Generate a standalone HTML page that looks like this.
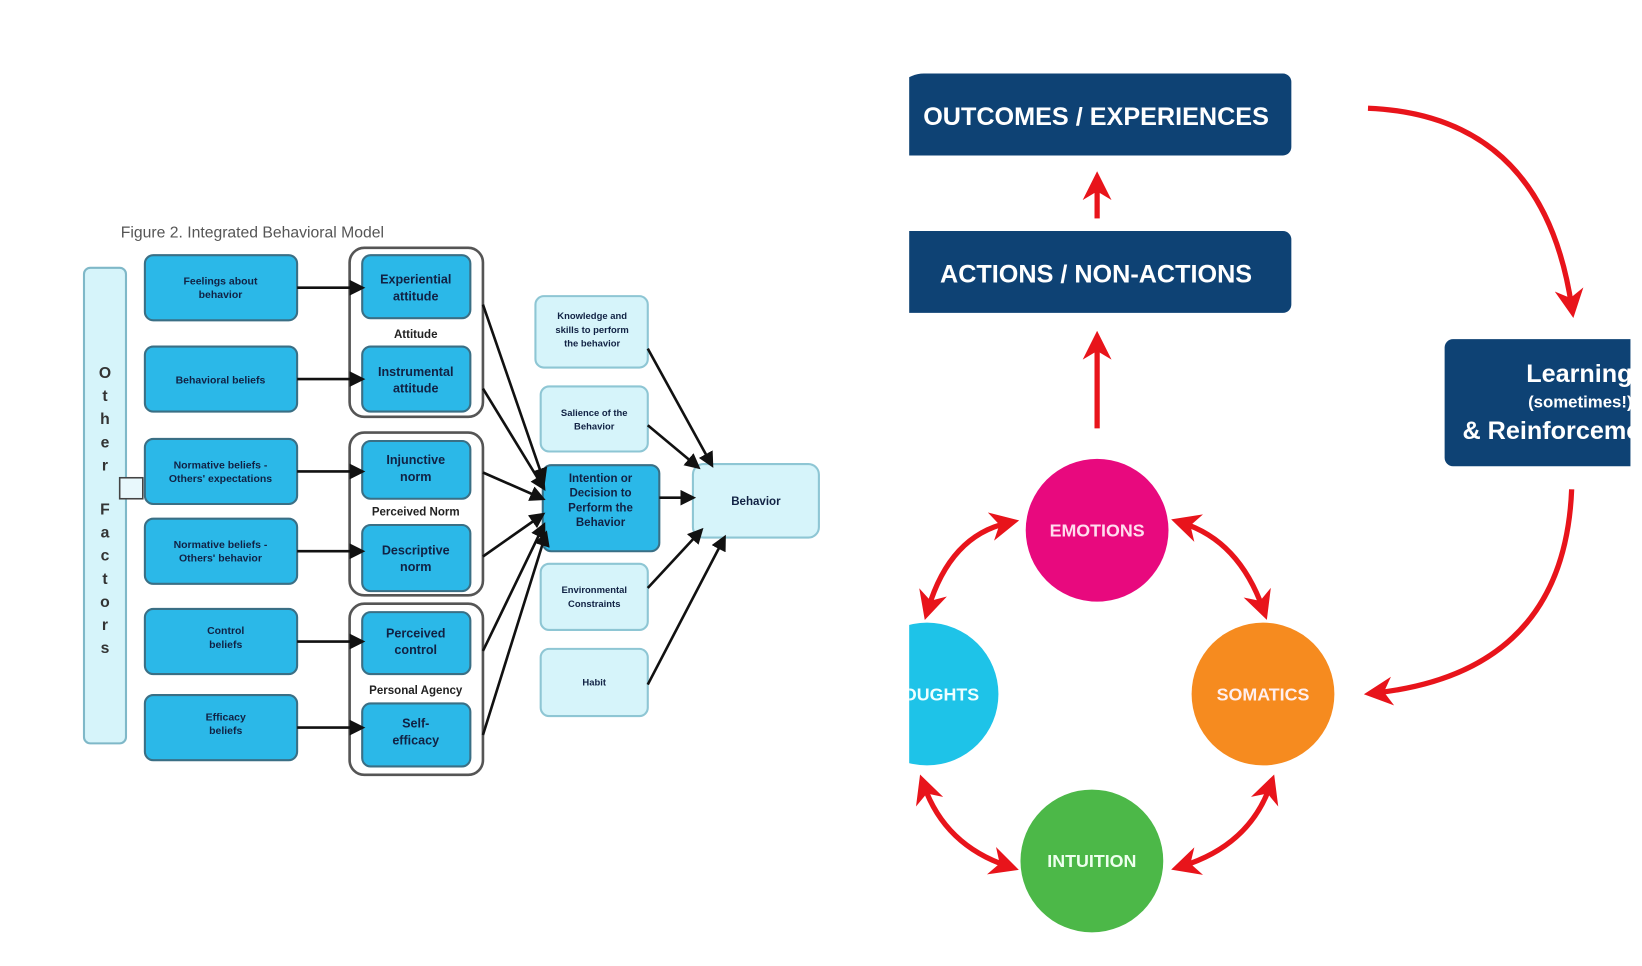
<!DOCTYPE html>
<html><head><meta charset="utf-8"><style>
html,body{margin:0;padding:0;background:#fff;width:1642px;height:966px;overflow:hidden}
svg{display:block}
.t{font-family:"Liberation Sans",sans-serif;font-weight:bold}
</style></head><body>
<svg width="1642" height="966" viewBox="0 0 1564 920" xmlns="http://www.w3.org/2000/svg">
<defs>
<marker id="ah" viewBox="0 0 10 10" refX="8" refY="5" markerWidth="6" markerHeight="6" orient="auto-start-reverse"><path d="M0,0 L10,5 L0,10 z" fill="#111"/></marker>
<marker id="rh" viewBox="0 0 10 10" refX="6" refY="5" markerWidth="5.5" markerHeight="5.5" orient="auto-start-reverse"><path d="M0,0 L10,5 L0,10 L3,5 z" fill="#e8141b"/></marker>
<clipPath id="rc"><rect x="866" y="0" width="692" height="920"/></clipPath>
</defs>
<rect width="1564" height="920" fill="#fff"/>
<!-- LEFT DIAGRAM -->
<text x="115" y="226" font-family="Liberation Sans,sans-serif" font-size="15" fill="#555">Figure 2.  Integrated Behavioral Model</text>
<rect x="80" y="255" width="40" height="453" rx="6" fill="#d6f4fa" stroke="#7fb8c8" stroke-width="2"/>
<text x="100" y="360" class="t" font-size="15" fill="#333" text-anchor="middle">
<tspan x="100" dy="0">O</tspan><tspan x="100" dy="22">t</tspan><tspan x="100" dy="22">h</tspan><tspan x="100" dy="22">e</tspan><tspan x="100" dy="22">r</tspan><tspan x="100" dy="42">F</tspan><tspan x="100" dy="22">a</tspan><tspan x="100" dy="22">c</tspan><tspan x="100" dy="22">t</tspan><tspan x="100" dy="22">o</tspan><tspan x="100" dy="22">r</tspan><tspan x="100" dy="22">s</tspan></text>
<rect x="114" y="455" width="22" height="20" fill="#e8f8fc" stroke="#444" stroke-width="1.5"/>
<g fill="#2bb8e8" stroke="#3a6f85" stroke-width="2">
<rect x="138" y="243" width="145" height="62" rx="8"/>
<rect x="138" y="330" width="145" height="62" rx="8"/>
<rect x="138" y="418" width="145" height="62" rx="8"/>
<rect x="138" y="494" width="145" height="62" rx="8"/>
<rect x="138" y="580" width="145" height="62" rx="8"/>
<rect x="138" y="662" width="145" height="62" rx="8"/>
</g>
<g fill="none" stroke="#555" stroke-width="2.5">
<rect x="333" y="236" width="127" height="161" rx="14"/>
<rect x="333" y="412" width="127" height="155" rx="14"/>
<rect x="333" y="575" width="127" height="163" rx="14"/>
</g>
<g fill="#2bb8e8" stroke="#3a6f85" stroke-width="2">
<rect x="345" y="243" width="103" height="60" rx="8"/>
<rect x="345" y="330" width="103" height="62" rx="8"/>
<rect x="345" y="420" width="103" height="55" rx="8"/>
<rect x="345" y="500" width="103" height="63" rx="8"/>
<rect x="345" y="583" width="103" height="59" rx="8"/>
<rect x="345" y="670" width="103" height="60" rx="8"/>
<rect x="517" y="443" width="111" height="82" rx="8"/>
</g>
<g fill="#d6f4fa" stroke="#8ec6d4" stroke-width="2">
<rect x="510" y="282" width="107" height="68" rx="8"/>
<rect x="515" y="368" width="102" height="62" rx="8"/>
<rect x="515" y="537" width="102" height="63" rx="8"/>
<rect x="515" y="618" width="102" height="64" rx="8"/>
<rect x="660" y="442" width="120" height="70" rx="10"/>
</g>
<g stroke="#111" stroke-width="2.5" marker-end="url(#ah)" fill="none">
<line x1="283" y1="274" x2="345" y2="274"/>
<line x1="283" y1="361" x2="345" y2="361"/>
<line x1="283" y1="449" x2="345" y2="449"/>
<line x1="283" y1="525" x2="345" y2="525"/>
<line x1="283" y1="611" x2="345" y2="611"/>
<line x1="283" y1="693" x2="345" y2="693"/>
<line x1="460" y1="290" x2="518" y2="458"/>
<line x1="460" y1="370" x2="518" y2="465"/>
<line x1="460" y1="450" x2="517" y2="475"/>
<line x1="460" y1="530" x2="517" y2="490"/>
<line x1="460" y1="620" x2="518" y2="500"/>
<line x1="460" y1="700" x2="520" y2="508"/>
<line x1="628" y1="474" x2="660" y2="474"/>
<line x1="617" y1="332" x2="678" y2="443"/>
<line x1="617" y1="405" x2="665" y2="445"/>
<line x1="617" y1="560" x2="668" y2="505"/>
<line x1="617" y1="652" x2="690" y2="512"/>
</g>
<g class="t" font-size="10" fill="#124" text-anchor="middle">
<text x="210" y="271">Feelings about</text><text x="210" y="284">behavior</text>
<text x="210" y="365">Behavioral beliefs</text>
<text x="210" y="446">Normative beliefs -</text><text x="210" y="459">Others' expectations</text>
<text x="210" y="522">Normative beliefs -</text><text x="210" y="535">Others' behavior</text>
<text x="215" y="604">Control</text><text x="215" y="617">beliefs</text>
<text x="215" y="686">Efficacy</text><text x="215" y="699">beliefs</text>
<text x="396" y="270" font-size="12">Experiential</text><text x="396" y="286" font-size="12">attitude</text>
<text x="396" y="322" font-size="11" fill="#222">Attitude</text>
<text x="396" y="358" font-size="12">Instrumental</text><text x="396" y="374" font-size="12">attitude</text>
<text x="396" y="442" font-size="12">Injunctive</text><text x="396" y="458" font-size="12">norm</text>
<text x="396" y="491" font-size="11" fill="#222">Perceived Norm</text>
<text x="396" y="528" font-size="12">Descriptive</text><text x="396" y="544" font-size="12">norm</text>
<text x="396" y="607" font-size="12">Perceived</text><text x="396" y="623" font-size="12">control</text>
<text x="396" y="661" font-size="11" fill="#222">Personal Agency</text>
<text x="396" y="693" font-size="12">Self-</text><text x="396" y="709" font-size="12">efficacy</text>
<text x="572" y="459" font-size="11">Intention or</text><text x="572" y="473" font-size="11">Decision to</text><text x="572" y="487" font-size="11">Perform the</text><text x="572" y="501" font-size="11">Behavior</text>
<text x="564" y="304" font-size="9">Knowledge and</text><text x="564" y="317" font-size="9">skills to perform</text><text x="564" y="330" font-size="9">the behavior</text>
<text x="566" y="396" font-size="9">Salience of the</text><text x="566" y="409" font-size="9">Behavior</text>
<text x="566" y="565" font-size="9">Environmental</text><text x="566" y="578" font-size="9">Constraints</text>
<text x="566" y="653" font-size="9">Habit</text>
<text x="720" y="481" font-size="11">Behavior</text>
</g>
<!-- RIGHT DIAGRAM -->
<g clip-path="url(#rc)">
<path d="M896,70 H1222 a8,8 0 0 1 8,8 V140 a8,8 0 0 1 -8,8 H850 V100 a30,30 0 0 1 30,-30 z" fill="#0e4274"/>
<rect x="850" y="220" width="380" height="78" rx="8" fill="#0e4274"/>
<rect x="1376" y="323" width="200" height="121" rx="8" fill="#0e4274"/>
<circle cx="1045" cy="505" r="68" fill="#e8097e"/>
<circle cx="883" cy="661" r="68" fill="#1ec3e8"/>
<circle cx="1203" cy="661" r="68" fill="#f68b1f"/>
<circle cx="1040" cy="820" r="68" fill="#4cb848"/>
<g stroke="#e8141b" stroke-width="5" fill="none">
<line x1="1045" y1="208" x2="1045" y2="174" marker-end="url(#rh)"/>
<line x1="1045" y1="408" x2="1045" y2="326" marker-end="url(#rh)"/>
<path d="M1303,103 Q1470,110 1497,292" marker-end="url(#rh)"/>
<path d="M1497,466 Q1490,640 1310,660" marker-end="url(#rh)"/>
<path d="M960,498 Q905,510 884,580" marker-start="url(#rh)" marker-end="url(#rh)"/>
<path d="M1126,498 Q1180,515 1203,580" marker-start="url(#rh)" marker-end="url(#rh)"/>
<path d="M880,748 Q900,805 960,825" marker-start="url(#rh)" marker-end="url(#rh)"/>
<path d="M1210,748 Q1190,805 1126,825" marker-start="url(#rh)" marker-end="url(#rh)"/>
</g>
<g class="t" fill="#fff" text-anchor="middle">
<text x="1044" y="119" font-size="24">OUTCOMES / EXPERIENCES</text>
<text x="1044" y="269" font-size="24">ACTIONS / NON-ACTIONS</text>
<text x="1045" y="511" font-size="17" fill="#fde">EMOTIONS</text>
<text x="1203" y="667" font-size="17" fill="#fee">SOMATICS</text>
<text x="1040" y="826" font-size="17" fill="#efe">INTUITION</text>
<text x="885" y="667" font-size="17" fill="#eff">THOUGHTS</text>
<text x="1555" y="364" font-size="24" text-anchor="end">Learning</text>
<text x="1555" y="388" font-size="16" text-anchor="end">(sometimes!)</text>
<text x="1393" y="418" font-size="24" text-anchor="start">&amp; Reinforcement</text>
</g>
</g>
<rect x="1553" y="0" width="11" height="920" fill="#fff"/>
</svg>
</body></html>
